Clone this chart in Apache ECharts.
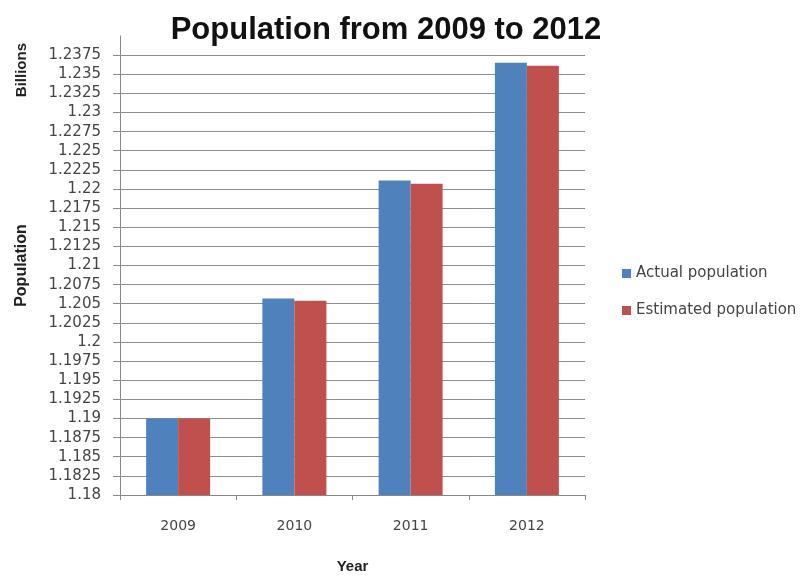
<!DOCTYPE html>
<html>
<head>
<meta charset="utf-8">
<script src="https://cdn.jsdelivr.net/npm/echarts@6/dist/echarts.min.js"></script>
<style>
  html, body { margin: 0; padding: 0; background: #fff; overflow: hidden; }
  #chart { width: 807px; height: 576px; }
</style>
</head>
<body>
<div id="chart"></div>
<script>
// Population in billions, actual vs. estimated
const years = ['2009', '2010', '2011', '2012'];
const actualPopulation = [1.19, 1.2057, 1.2211, 1.2365];
const estimatedPopulation = [1.19, 1.2054, 1.2207, 1.2361];
const seriesNames = ['Actual population', 'Estimated population'];

const chart = echarts.init(document.getElementById('chart'));

const titleFont = 'Liberation Sans, Arial, sans-serif';
const labelFont = 'DejaVu Sans, sans-serif';

chart.setOption({
  animation: false,
  backgroundColor: '#ffffff',
  title: {
    text: 'Population from 2009 to 2012',
    left: 381,
    textAlign: 'center',
    top: 10,
    textStyle: { fontFamily: titleFont, fontSize: 31, fontWeight: 'bold', color: '#111' }
  },
  legend: {
    orient: 'vertical',
    left: 617,
    top: 261,
    itemWidth: 9,
    itemHeight: 9,
    itemGap: 22,
    icon: 'rect',
    textStyle: { fontFamily: labelFont, fontSize: 15, color: '#444' },
    data: seriesNames
  },
  // fixed plot rectangle; names and labels may sit near the canvas edge
  grid: { left: 120, right: 222, top: 36, bottom: 81, containLabel: false, outerBoundsMode: 'none' },
  xAxis: {
    type: 'category',
    data: years,
    name: 'Year',
    nameLocation: 'middle',
    nameGap: 64,
    nameTextStyle: { fontFamily: titleFont, fontSize: 15, fontWeight: 'bold', color: '#222' },
    axisLine: { lineStyle: { color: '#888', width: 1 } },
    axisTick: { show: true, length: 5, lineStyle: { color: '#888' } },
    axisLabel: { fontFamily: labelFont, fontSize: 14, color: '#444', margin: 24 }
  },
  yAxis: {
    type: 'value',
    min: 1.18,
    max: 1.24,
    interval: 0.0025,
    name: 'Population',
    nameLocation: 'middle',
    nameRotate: 90,
    nameGap: 90,
    nameTextStyle: { fontFamily: titleFont, fontSize: 16, fontWeight: 'bold', color: '#222' },
    axisLine: { show: true, lineStyle: { color: '#888', width: 1 } },
    axisTick: { show: true, length: 7, lineStyle: { color: '#888' } },
    axisLabel: {
      fontFamily: labelFont, fontSize: 15, color: '#444', margin: 19,
      showMaxLabel: false,
      formatter: v => String(Math.round(v * 10000) / 10000)
    },
    splitLine: { show: true, showMaxLine: false, lineStyle: { color: '#8e8e8e', width: 1 } }
  },
  graphic: [{
    type: 'text',
    left: 14,
    top: 43,
    rotation: Math.PI / 2,
    style: { text: 'Billions', font: 'bold 15px ' + titleFont, fill: '#222' }
  }],
  series: [
    {
      name: seriesNames[0],
      type: 'bar',
      data: actualPopulation,
      barWidth: 32,
      barGap: '0%',
      itemStyle: { color: '#4F81BD' }
    },
    {
      name: seriesNames[1],
      type: 'bar',
      data: estimatedPopulation,
      barWidth: 32,
      barGap: '0%',
      itemStyle: { color: '#C0504D' }
    }
  ]
});
</script>
</body>
</html>
